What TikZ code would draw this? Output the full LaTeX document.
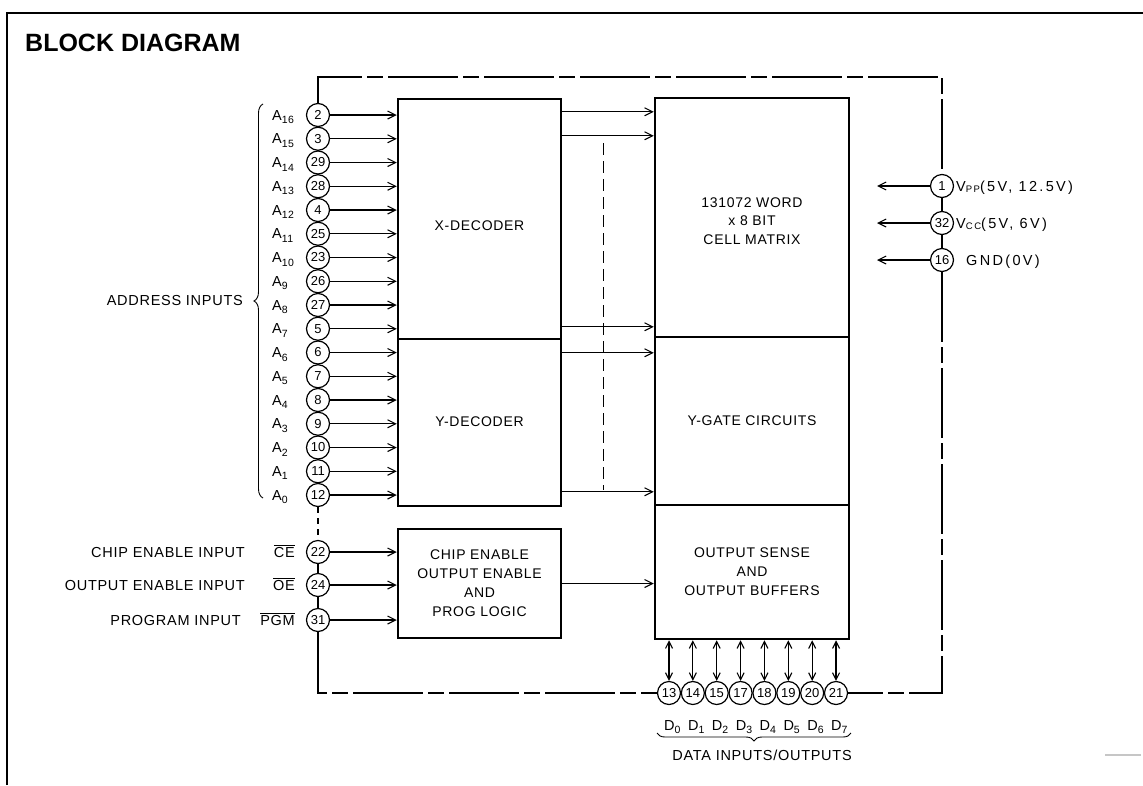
\documentclass[tikz,border=0pt]{standalone}
\usepackage{fontspec}
\setmainfont{Liberation Sans}
\newfontfamily\slabfam[LetterSpace=5]{Liberation Sans}
\newfontfamily\widefam[LetterSpace=16]{Liberation Sans}
\newfontfamily\pinfam{Liberation Sans}
\newcommand\labfont{\slabfam\fontsize{14.5pt}{17pt}\selectfont}
\newcommand\widefont{\widefam\fontsize{14.5pt}{17pt}\selectfont}
\newcommand\boxfont{\slabfam\fontsize{14pt}{19pt}\selectfont}
\newcommand\pinfont{\pinfam\fontsize{13pt}{13pt}\selectfont}
\newcommand\mysub[1]{\raisebox{-3.5pt}{\fontsize{10.5pt}{10.5pt}\selectfont#1}}
\newcommand\vsub[1]{\raisebox{-1.5pt}{\fontsize{9.5pt}{9.5pt}\selectfont#1}}
\newcommand\ovl[1]{$\overline{\hbox{#1}}$}
\usetikzlibrary{arrows.meta,decorations.pathreplacing,calc}
\begin{document}
\begin{tikzpicture}[x=1pt,y=-1pt,
  pin/.style={circle,draw,line width=1.2pt,minimum size=23pt,inner sep=0pt,font=\pinfont},
  blk/.style={draw,line width=2.5pt,inner sep=0pt},
  sig/.style={line width=1.1pt,-{Straight Barb[length=8pt,width=8pt,line width=1.1pt]}},
  bidir/.style={line width=1.1pt,{Straight Barb[length=7pt,width=7pt,line width=1.1pt]}-{Straight Barb[length=7pt,width=7pt,line width=1.1pt]}},
  wire/.style={line width=1.1pt},
  encl/.style={line width=1.1pt,dash pattern=on 70pt off 5pt on 16pt off 5pt},
  lab/.style={font=\labfont,inner sep=0pt},
  boxtext/.style={font=\boxfont,align=center,inner sep=0pt},
]
\useasboundingbox (0,0) rectangle (1143,785);
% frame
\draw[line width=2.5pt] (7,785) -- (7,13) -- (1143,13);
\draw[gray!45,line width=1.5pt] (1105,755) -- (1141,755);
\node[anchor=base west,inner sep=0pt,font=\fontsize{25pt}{25pt}\selectfont\bfseries] (title) at (25,51) {BLOCK DIAGRAM};

% blocks
\node[blk,minimum width=163pt,minimum height=240pt] (xdec) at (479.5,219) {};
\node[boxtext] (xdect) at (479.5,226) {X-DECODER};
\node[blk,minimum width=163pt,minimum height=167pt] (ydec) at (479.5,422.5) {};
\node[boxtext] (ydect) at (479.5,422) {Y-DECODER};
\node[blk,minimum width=163pt,minimum height=109pt,boxtext] (ctl) at (479.5,583.5) {CHIP ENABLE\\OUTPUT ENABLE\\AND\\PROG LOGIC};
\node[blk,minimum width=194pt,minimum height=239pt] (cm) at (752,217.5) {};
\node[boxtext,font=\slabfam\fontsize{14pt}{18.5pt}\selectfont] (cmt) at (752,221) {131072 WORD\\x 8 BIT\\CELL MATRIX};
\node[blk,minimum width=194pt,minimum height=168pt,boxtext] (yg) at (752,421) {Y-GATE CIRCUITS};
\node[blk,minimum width=194pt,minimum height=134pt,boxtext] (osb) at (752,572) {OUTPUT SENSE\\AND\\OUTPUT BUFFERS};

% decoder to matrix arrows
\coordinate (x1) at ($(xdec.north east)+(0,14)$);
\coordinate (x2) at ($(xdec.north east)+(0,38)$);
\coordinate (x3) at ($(xdec.north east)+(0,229)$);
\coordinate (y1) at ($(ydec.north east)+(0,15)$);
\coordinate (y2) at ($(ydec.north east)+(0,154)$);
\draw[sig] (x1) -- (x1 -| cm.west);
\draw[sig] (x2) -- (x2 -| cm.west);
\draw[sig] (x3) -- (x3 -| cm.west);
\draw[sig] (y1) -- (y1 -| yg.west);
\draw[sig] (y2) -- (y2 -| yg.west);
\coordinate (dv1) at (603,143);
\coordinate (dv2) at (603,490);
\draw[line width=1pt,dash pattern=on 12pt off 6pt] (dv1) -- (dv2);
\draw[sig] (ctl.east) -- (ctl.east -| osb.west);

% address pins
\foreach \n/\l/\t [count=\i from 0] in {2/16/xdec,3/15/xdec,29/14/xdec,28/13/xdec,4/12/xdec,25/11/xdec,23/10/xdec,26/9/xdec,27/8/xdec,5/7/xdec,6/6/ydec,7/5/ydec,8/4/ydec,9/3/ydec,10/2/ydec,11/1/ydec,12/0/ydec} {
  \pgfmathsetmacro\yy{115+23.75*\i}
  \node[pin] (a\l) at (318,\yy) {\n};
  \node[lab,anchor=base west] (la\l) at (272,\yy+5) {A\mysub{\l}};
  \draw[sig] (a\l.east) -- (a\l.east -| \t.west);
  \pgfmathtruncatemacro\prv{\l+1}
  \ifnum\l<16 \draw[wire] (a\prv.south) -- (a\l.north); \fi
}
\draw[line width=0.9pt,decorate,decoration={brace,amplitude=9pt}] (263,498) -- (263,104);
\node[lab,anchor=base east] (addr) at (243,305) {ADDRESS INPUTS};

% control pins
\node[pin] (c22) at (318,552) {22};
\node[pin] (c24) at (318,585) {24};
\node[pin] (c31) at (318,620) {31};
\node[lab,anchor=base east] (lce) at (245,557) {CHIP ENABLE INPUT};
\node[lab,anchor=base east] (loe) at (245,590) {OUTPUT ENABLE INPUT};
\node[lab,anchor=base east] (lpg) at (241,625) {PROGRAM INPUT};
\node[lab,anchor=base east] (oce) at (295,557) {\ovl{CE}};
\node[lab,anchor=base east] (ooe) at (295,590) {\ovl{OE}};
\node[lab,anchor=base east] (opg) at (295,625) {\ovl{PGM}};
\foreach \p in {c22,c24,c31} \draw[sig] (\p.east) -- (\p.east -| ctl.west);
\draw[wire,dash pattern=on 6pt off 5pt] (a0.south) -- (c22.north);
\draw[wire] (c22.south) -- (c24.north);
\draw[wire] (c24.south) -- (c31.north);

% power pins
\node[pin] (p1) at (942,186) {1};
\node[pin] (p32) at (942,223) {32};
\node[pin] (p16) at (942,260) {16};
\coordinate (e1) at (877,186);
\coordinate (e32) at (877,223);
\coordinate (e16) at (877,260);
\draw[sig] (p1.west) -- (e1);
\draw[sig] (p32.west) -- (e32);
\draw[sig] (p16.west) -- (e16);
\draw[wire] (p1.south) -- (p32.north);
\draw[wire] (p32.south) -- (p16.north);
\node[lab,font=\widefont,anchor=base west] (lvpp) at (956,191) {V\vsub{PP}(5V, 12.5V)};
\node[lab,font=\widefont,anchor=base west] (lvcc) at (956,228) {V\vsub{CC}(5V, 6V)};
\node[lab,font=\widefont,anchor=base west] (lgnd) at (966,265) {GND(0V)};

% data pins
\foreach \n [count=\i from 0] in {13,14,15,17,18,19,20,21} {
  \pgfmathsetmacro\xx{669+23.86*\i}
  \node[pin] (d\i) at (\xx,693) {\n};
  \draw[bidir] (d\i.north) -- (d\i.north |- osb.south);
  \node[lab,anchor=base west] (ld\i) at (\xx-5,730) {D\mysub{\i}};
}
\draw[line width=0.9pt,decorate,decoration={brace,amplitude=8pt}] (851,733) -- (657,733);
\node[lab] (dio) at (762,755) {DATA INPUTS/OUTPUTS};

% enclosure
\coordinate (tl) at (318,77);
\coordinate (tr) at (942,77);
\coordinate (br) at (942,693);
\coordinate (bl) at (318,693);
\draw[encl] (a16.north) -- (tl) -- (tr) -- (p1.north);
\draw[encl] (p16.south) -- (br) -- (d7.east);
\draw[encl] (c31.south) -- (bl) -- (d0.west);
\end{tikzpicture}
\end{document}
